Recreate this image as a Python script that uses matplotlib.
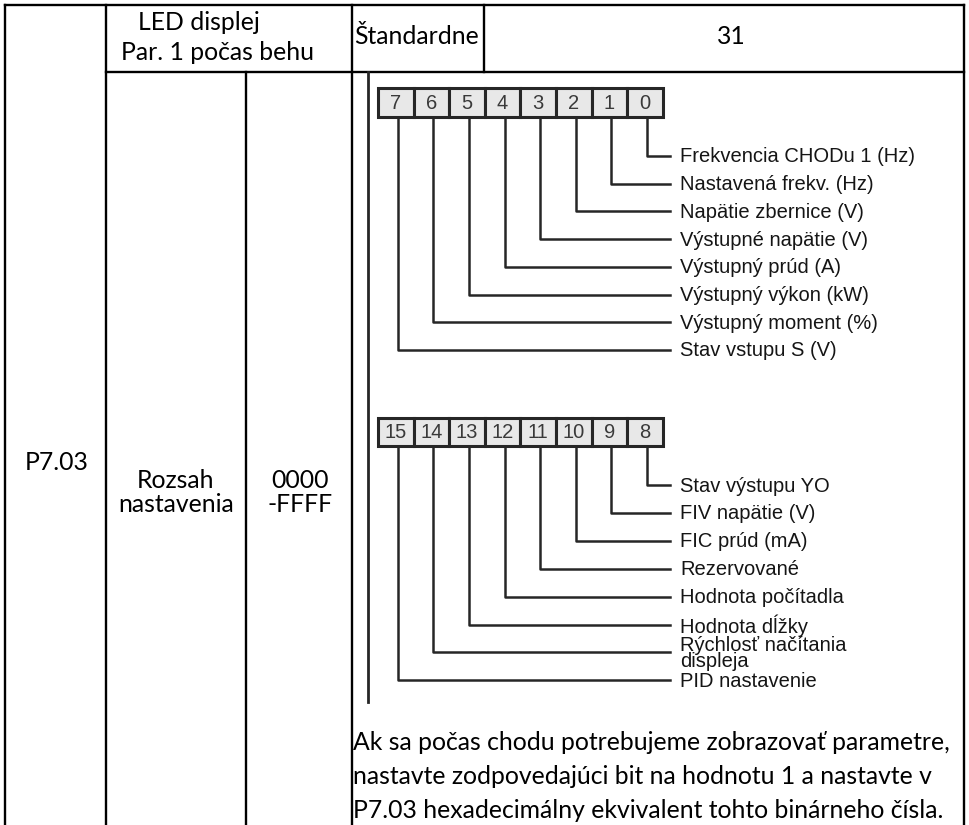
import matplotlib
matplotlib.use("Agg")
import matplotlib.pyplot as plt
from matplotlib.patches import Rectangle

# table texts
param_code = "P7.03"
header_name = ["LED displej", "Par. 1 počas behu"]
header_default = "Štandardne"
default_value = "31"
range_name = ["Rozsah", "nastavenia"]
range_value = ["0000", "-FFFF"]
note_lines = [
    "Ak sa počas chodu potrebujeme zobrazovať parametre,",
    "nastavte zodpovedajúci bit na hodnotu 1 a nastavte v",
    "P7.03 hexadecimálny ekvivalent tohto binárneho čísla.",
]

# bit diagram
low_bits = [7, 6, 5, 4, 3, 2, 1, 0]
high_bits = [15, 14, 13, 12, 11, 10, 9, 8]
low_labels = [  # bit 0 first
    "Frekvencia CHODu 1 (Hz)",
    "Nastavená frekv. (Hz)",
    "Napätie zbernice (V)",
    "Výstupné napätie (V)",
    "Výstupný prúd (A)",
    "Výstupný výkon (kW)",
    "Výstupný moment (%)",
    "Stav vstupu S (V)",
]
high_labels = [  # bit 8 first
    "Stav výstupu YO",
    "FIV napätie (V)",
    "FIC prúd (mA)",
    "Rezervované",
    "Hodnota počítadla",
    "Hodnota dĺžky",
    "Rýchlosť načítania\ndispleja",
    "PID nastavenie",
]

W, H = 969, 825
fig = plt.figure(figsize=(W / 100, H / 100), dpi=100)
ax = fig.add_axes([0, 0, 1, 1])
ax.set_xlim(0, W)
ax.set_ylim(H, 0)
ax.axis("off")

tfont = ["Lato", "DejaVu Sans"]
dfont = ["Liberation Sans", "DejaVu Sans"]
lw = 1.7


def seg(x0, y0, x1, y1, c="black", w=lw):
    ax.plot([x0, x1], [y0, y1], color=c, lw=w, solid_capstyle="projecting")


# table grid
seg(5, 5, 964, 5)
seg(106, 72, 964, 72)
for x in [5, 106, 352, 964]:
    seg(x, 5, x, H + 5)
seg(246, 72, 246, H + 5)
seg(484, 5, 484, 72)

fs = 17.8
ax.text(138, 22, header_name[0], family=tfont, fontsize=fs, va="center", ha="left")
ax.text(121, 53, header_name[1], family=tfont, fontsize=fs, va="center", ha="left")
ax.text(354, 37, header_default, family=tfont, fontsize=fs, va="center", ha="left")
ax.text(731, 37, default_value, family=tfont, fontsize=fs, va="center", ha="center")
ax.text(57, 463, param_code, family=tfont, fontsize=fs, va="center", ha="center")
ax.text(176, 481, range_name[0], family=tfont, fontsize=fs, va="center", ha="center")
ax.text(176, 505, range_name[1], family=tfont, fontsize=fs, va="center", ha="center")
ax.text(300, 481, range_value[0], family=tfont, fontsize=fs, va="center", ha="center")
ax.text(300, 505, range_value[1], family=tfont, fontsize=fs, va="center", ha="center")
for i, line in enumerate(note_lines):
    ax.text(353, 743 + i * 33.5, line, family=tfont, fontsize=fs, va="center", ha="left")

# diagram
dc = "#262626"
seg(368, 72, 368, 702, c=dc, w=2.0)

box_left, cell_w = 378, 35.6
line_end, label_x = 670, 680


def draw_group(bits, labels, box_top, box_h, row0, step):
    for i, b in enumerate(bits):
        ax.add_patch(Rectangle((box_left + i * cell_w, box_top), cell_w, box_h,
                               facecolor="#e8e8e8", edgecolor=dc, lw=2.2))
        ax.text(box_left + (i + 0.5) * cell_w, box_top + box_h / 2 + 1, str(b),
                family=dfont, fontsize=14.5, color="#3a3a3a", ha="center", va="center")
    n = len(bits)
    for k, lab in enumerate(labels):
        xl = box_left + (n - 1 - k + 0.5) * cell_w + 2
        y = row0 + k * step
        ax.plot([xl, xl, line_end], [box_top + box_h, y, y], color=dc, lw=1.8)
        ax.text(label_x, y + 1, lab, family=dfont, fontsize=14.5, color="#151515",
                ha="left", va="center", linespacing=0.76)


draw_group(low_bits, low_labels, 88, 29, 156, 27.7)
draw_group(high_bits, high_labels, 418, 28, 485, 27.9)

fig.savefig("out.png", dpi=100)
